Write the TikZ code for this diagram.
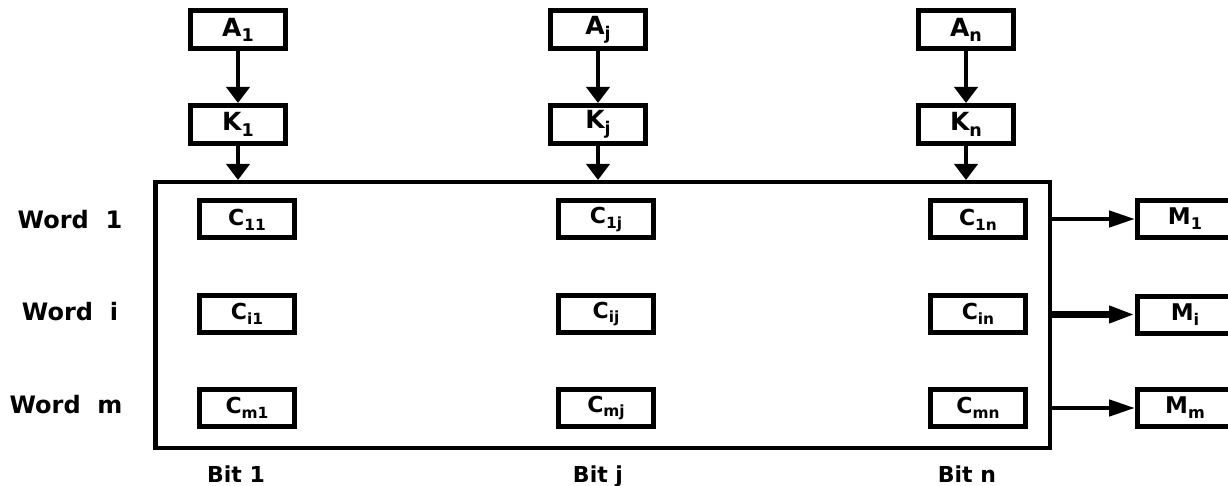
\documentclass[tikz,border=0pt]{standalone}
\usepackage{fontspec}
\usepackage{graphicx}
\setmainfont{DejaVu Sans}
\usetikzlibrary{arrows.meta}
% lowered, reduced index after a letter
\newcommand\idx[1]{\raisebox{-0.4ex}{\scalebox{0.7}{#1}}}

\begin{document}
\begin{tikzpicture}[x=1pt,y=-1pt,
  box/.style={draw, line width=5pt, minimum width=95pt, minimum height=38pt,
    inner sep=0pt, font=\fontsize{25}{25}\selectfont\bfseries},
  cell/.style={box, minimum height=37pt, font=\fontsize{22}{22}\selectfont\bfseries},
  outbox/.style={box, minimum height=37pt, font=\fontsize{23}{23}\selectfont\bfseries},
  rowlbl/.style={inner sep=0pt, anchor=base, font=\fontsize{24}{24}\selectfont\bfseries},
  collbl/.style={inner sep=0pt, anchor=base, font=\fontsize{22}{22}\selectfont\bfseries},
  downarrow/.style={line width=4.5pt, -{Triangle[length=16pt,width=23pt]}},
  outarrow/.style={line width=4.5pt, -{Triangle[length=26pt,width=16pt]}}
]
\clip (0,0) rectangle (1228,486);
\fill[white] (0,0) rectangle (1228,486);

% memory array outline
\node[draw, line width=4.5pt, minimum width=894.5pt, minimum height=265.5pt,
  inner sep=0pt] (mem) at (602.5,315) {};

% argument and key registers
\node[box] (A1) at (238,30) {A\idx{1}};
\node[box] (Aj) at (598,30) {A\idx{j}};
\node[box] (An) at (966,30) {A\idx{n}};
\node[box] (K1) at (238,124.5) {K\idx{1}};
\node[box] (Kj) at (598,124.5) {K\idx{j}};
\node[box] (Kn) at (966,124.5) {K\idx{n}};

% cells
\node[cell] (C11) at (247,219.5) {C\idx{11}};
\node[cell] (C1j) at (606,219.5) {C\idx{1j}};
\node[cell] (C1n) at (978,219.5) {C\idx{1n}};
\node[cell] (Ci1) at (247,314) {C\idx{i1}};
\node[cell] (Cij) at (606,314) {C\idx{ij}};
\node[cell] (Cin) at (978,314) {C\idx{in}};
\node[cell] (Cm1) at (247,408) {C\idx{m1}};
\node[cell] (Cmj) at (606,408) {C\idx{mj}};
\node[cell] (Cmn) at (978,408) {C\idx{mn}};

% match register
\node[outbox] (M1) at (1185,219) {M\idx{1}};
\node[outbox] (Mi) at (1185,314.5) {M\idx{i}};
\node[outbox] (Mm) at (1185,408) {M\idx{m}};

% row and column labels
\node[rowlbl] (w1) at (70,229) {Word\ \ 1};
\node[rowlbl] (wi) at (70,320) {Word\ \ i};
\node[rowlbl] (wm) at (66,413) {Word\ \ m};
\node[collbl] (b1) at (236,482) {Bit 1};
\node[collbl] (bj) at (598,482) {Bit j};
\node[collbl] (bn) at (967,482) {Bit n};

% connectors
\foreach \c in {1,j,n}{
  \draw[downarrow] (A\c) -- (K\c);
  \draw[downarrow] (K\c) -- (K\c |- mem.north);
}
\draw[outarrow] (mem.east |- M1) -- (M1);
\draw[outarrow, line width=6.5pt] (mem.east |- Mi) -- (Mi);
\draw[outarrow] (mem.east |- Mm) -- (Mm);
\end{tikzpicture}
\end{document}
